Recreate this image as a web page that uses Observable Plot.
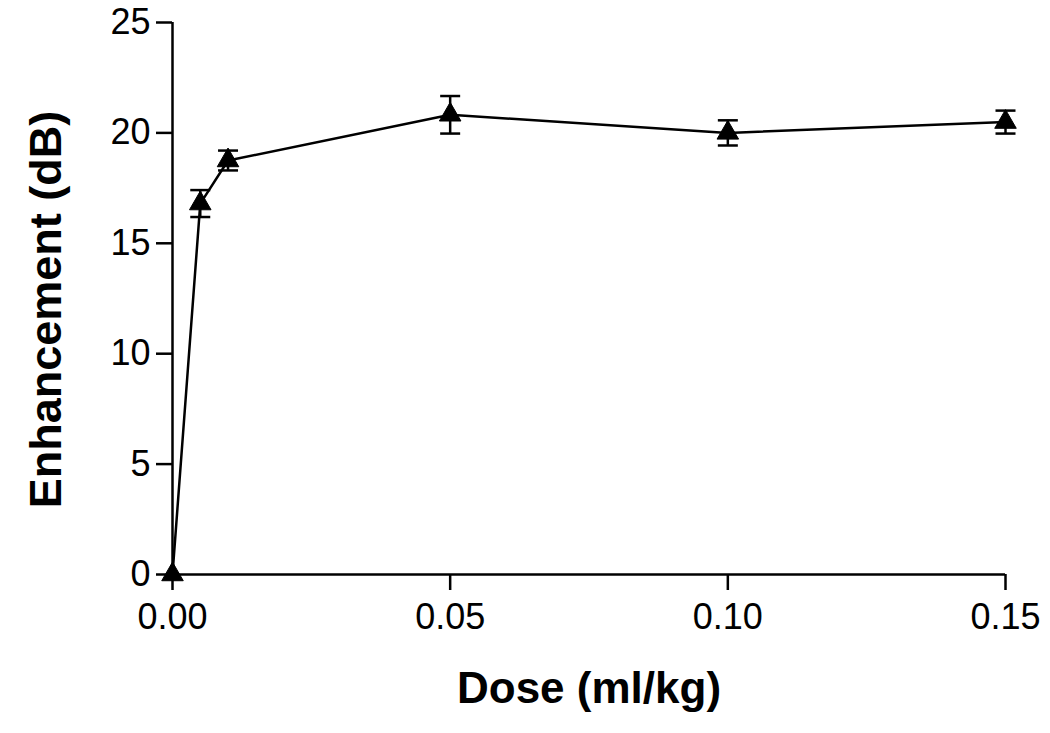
<!DOCTYPE html>
<html>
<head>
<meta charset="utf-8">
<script src="https://cdn.jsdelivr.net/npm/d3@7"></script>
<script src="https://cdn.jsdelivr.net/npm/@observablehq/plot@0.6"></script>
<style>
  html, body { margin: 0; padding: 0; background: #fff; }
  #chart svg { display: block; }
</style>
</head>
<body>
<div id="chart"></div>
<script>
const doses = [0, 0.005, 0.01, 0.05, 0.10, 0.15];
const enhancement = [0, 16.8, 18.75, 20.82, 20.0, 20.49];
const sem = [0, 0.61, 0.45, 0.85, 0.57, 0.52];
const xTicks = [0, 0.05, 0.10, 0.15];
const yTicks = [0, 5, 10, 15, 20, 25];
const xTitle = "Dose (ml/kg)";
const yTitle = "Enhancement (dB)";

const data = doses.map((d, i) => ({dose: d, y: enhancement[i], lo: enhancement[i] - sem[i], hi: enhancement[i] + sem[i], e: sem[i]}));
const errData = data.filter(d => d.e > 0);

const capSymbol = {
  draw(ctx, size) {
    const r = Math.sqrt(size / Math.PI);
    ctx.moveTo(-r, 0);
    ctx.lineTo(r, 0);
  }
};

const font = "'Liberation Sans', Arial, Helvetica, sans-serif";

const chart = Plot.plot({
  width: 1050,
  height: 733,
  marginLeft: 172,
  marginRight: 45,
  marginTop: 22,
  marginBottom: 159,
  style: {fontFamily: font, background: "#fff", color: "#000"},
  x: {domain: [0, 0.15]},
  y: {domain: [0, 25]},
  marks: [
    Plot.axisX({ticks: xTicks, tickFormat: d3.format(".2f"), tickSize: 16, tickPadding: 13, fontSize: 36, strokeWidth: 2.5, label: null}),
    Plot.axisY({ticks: yTicks, tickFormat: d3.format("d"), tickSize: 16, tickPadding: 6, fontSize: 36, strokeWidth: 2.5, label: null}),
    Plot.ruleY([0], {stroke: "#000", strokeWidth: 2.5}),
    Plot.ruleX([0], {stroke: "#000", strokeWidth: 2.5}),
    Plot.ruleX(errData, {x: "dose", y1: "lo", y2: "hi", stroke: "#000", strokeWidth: 2.5}),
    Plot.dot(errData, {x: "dose", y: "lo", symbol: capSymbol, r: 10, stroke: "#000", strokeWidth: 2.5}),
    Plot.dot(errData, {x: "dose", y: "hi", symbol: capSymbol, r: 10, stroke: "#000", strokeWidth: 2.5}),
    Plot.line(data, {x: "dose", y: "y", stroke: "#000", strokeWidth: 2.5}),
    Plot.dot(data, {x: "dose", y: "y", symbol: "triangle", r: 8, fill: "#000", stroke: "#000", strokeWidth: 1}),
    Plot.text([xTitle], {frameAnchor: "bottom", dy: 128, fontSize: 44, fontWeight: "bold", fill: "#000", lineAnchor: "bottom"}),
    Plot.text([yTitle], {frameAnchor: "left", textAnchor: "middle", dx: -112, dy: 11, rotate: -90, fontSize: 45, fontWeight: "bold", fill: "#000", lineAnchor: "bottom"})
  ]
});
document.getElementById("chart").appendChild(chart);
</script>
</body>
</html>
